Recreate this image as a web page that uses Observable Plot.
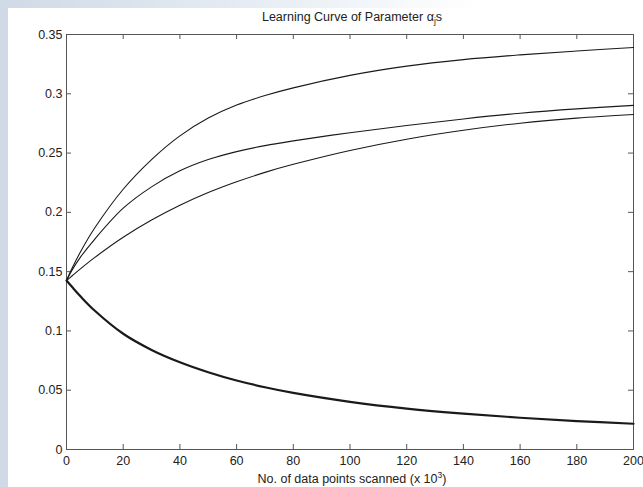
<!DOCTYPE html>
<html>
<head>
<meta charset="utf-8">
<script src="https://cdn.jsdelivr.net/npm/d3@7"></script>
<script src="https://cdn.jsdelivr.net/npm/@observablehq/plot@0.6"></script>
<style>
  html, body { margin: 0; padding: 0; background: #fff; }
  #wrap { position: relative; width: 643px; height: 487px; overflow: hidden; background: #fff;
          font-family: "Liberation Sans", Arial, sans-serif; color: #222; }
  #band-left { position: absolute; left: 0; top: 0; width: 8px; height: 487px; background: #cfdae6; }
  #band-top { position: absolute; left: 0; top: 0; width: 643px; height: 8px;
              background: linear-gradient(to right, #cfdae6 0%, #e3eaf2 35%, #ffffff 75%); }
  #title { position: absolute; left: 66px; width: 572px; top: 10px; text-align: center; font-size: 12.5px; }
  #title sub { font-size: 8.5px; vertical-align: -3px; line-height: 0; }
  #xlabel { position: absolute; left: 66px; width: 572px; top: 472px; text-align: center; font-size: 12.5px; }
  #xlabel sup { font-size: 8.5px; vertical-align: 5px; line-height: 0; }
  #chart { position: absolute; left: 0; top: 0; }
  #chart svg { background: transparent; }
</style>
</head>
<body>
<div id="wrap">
  <div id="band-left"></div>
  <div id="band-top"></div>
  <div id="chart"></div>
  <div id="title">Learning Curve of Parameter α<sub>j</sub>s</div>
  <div id="xlabel">No. of data points scanned (x 10<sup>3</sup>)</div>
</div>
<script>
// Data points scanned (thousands)
const scanned = [0, 2, 5, 10, 20, 30, 40, 50, 60, 70, 80, 100, 120, 140, 160, 180, 200];

// Parameter values for each alpha_j as learning proceeds
const alphaA = [0.1425, 0.153, 0.167, 0.187, 0.2195, 0.2445, 0.2645, 0.2795, 0.2905, 0.2985, 0.305, 0.3155, 0.3233, 0.3288, 0.3328, 0.3361, 0.3391];
const alphaB = [0.1425, 0.1515, 0.1625, 0.1775, 0.2035, 0.2215, 0.235, 0.2445, 0.2512, 0.2563, 0.2603, 0.2672, 0.2733, 0.2788, 0.2836, 0.2873, 0.2902];
const alphaC = [0.1425, 0.1465, 0.1525, 0.162, 0.179, 0.1935, 0.206, 0.2167, 0.2258, 0.2337, 0.2405, 0.2522, 0.2617, 0.2692, 0.2752, 0.2795, 0.2825];
const alphaD = [0.1425, 0.137, 0.129, 0.117, 0.0976, 0.084, 0.0736, 0.0652, 0.0582, 0.0525, 0.0477, 0.0402, 0.0345, 0.0302, 0.0268, 0.0240, 0.0217];

// Axis ticks
const xTicks = [0, 20, 40, 60, 80, 100, 120, 140, 160, 180, 200];
const yTicks = [0, 0.05, 0.1, 0.15, 0.2, 0.25, 0.3, 0.35];

const W = 643, H = 487;
const mL = 66, mR = 10, mT = 34, mB = 38;
const innerW = W - mL - mR, innerH = H - mT - mB;
const tickLen = 5;

const series = [
  {name: "A", values: alphaA, width: 1.1},
  {name: "B", values: alphaB, width: 1.1},
  {name: "C", values: alphaC, width: 1.1},
  {name: "D", values: alphaD, width: 2.2}
];
const rows = series.flatMap(s => s.values.map((v, i) => ({series: s.name, t: scanned[i], v})));

const frameColor = "#555";

const chart = Plot.plot({
  width: W,
  height: H,
  marginLeft: mL,
  marginRight: mR,
  marginTop: mT,
  marginBottom: mB,
  style: {fontFamily: "'Liberation Sans', Arial, sans-serif", fontSize: "12.5px", color: "#222", background: "transparent"},
  x: {domain: [0, 200]},
  y: {domain: [0, 0.35]},
  marks: [
    Plot.frame({stroke: frameColor, strokeWidth: 1}),
    // inward ticks on all four sides
    Plot.tickX(xTicks, {x: d => d, stroke: frameColor, insetTop: innerH - tickLen}),
    Plot.tickX(xTicks, {x: d => d, stroke: frameColor, insetBottom: innerH - tickLen}),
    Plot.tickY(yTicks, {y: d => d, stroke: frameColor, insetRight: innerW - tickLen}),
    Plot.tickY(yTicks, {y: d => d, stroke: frameColor, insetLeft: innerW - tickLen}),
    Plot.axisX(xTicks, {tickSize: 0, tickPadding: 7, label: null, fill: "#222"}),
    Plot.axisY(yTicks, {tickSize: 0, tickPadding: 4, tickFormat: d => String(d), label: null, fill: "#222"}),
    ...series.map(s => Plot.line(rows.filter(r => r.series === s.name), {
      x: "t", y: "v", stroke: "#1a1a1a", strokeWidth: s.width, curve: "catmull-rom"
    }))
  ]
});
document.getElementById("chart").appendChild(chart);
</script>
</body>
</html>
